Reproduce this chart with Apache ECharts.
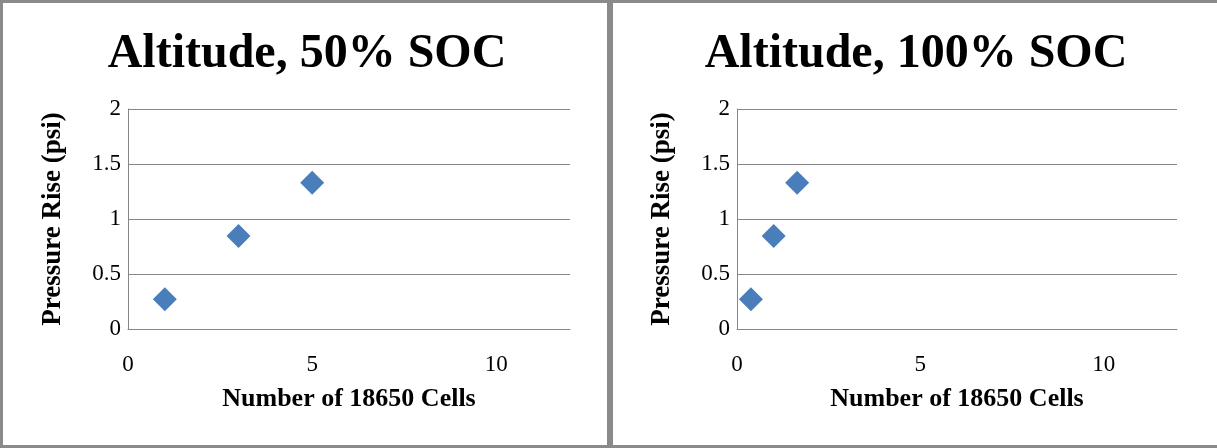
<!DOCTYPE html>
<html>
<head>
<meta charset="utf-8">
<script src="https://cdn.jsdelivr.net/npm/echarts@6/dist/echarts.min.js"></script>
<style>
html,body{margin:0;padding:0;background:#fff;}
#c{width:1217px;height:448px;}
</style>
</head>
<body>
<div id="c"></div>
<script>
// Data
const titles = ['Altitude, 50% SOC', 'Altitude, 100% SOC'];
const xAxisName = 'Number of 18650 Cells';
const yAxisName = 'Pressure Rise (psi)';
const cells50 = [1, 3, 5];
const pressure50 = [0.27, 0.845, 1.33];
const cells100 = [0.38, 1, 1.64];
const pressure100 = [0.27, 0.845, 1.33];
const xTicks = [0, 5, 10];
const yTicks = [0, 0.5, 1, 1.5, 2];

const serif = '"Liberation Serif", "Times New Roman", serif';
const gridColor = '#868686';
const borderColor = '#8a8a8a';

function xAxis(gi) {
  return {
    type: 'value', gridIndex: gi, min: 0, max: 12, interval: 5,
    name: xAxisName, nameLocation: 'middle', nameGap: 57,
    nameTextStyle: {fontFamily: serif, fontWeight: 'bold', fontSize: 26, color: '#000'},
    axisLine: {show: true, lineStyle: {color: gridColor, width: 1}},
    axisTick: {show: false},
    splitLine: {show: false},
    axisLabel: {
      margin: 24, fontFamily: serif, fontSize: 23, color: '#000',
      showMaxLabel: false,
      formatter: v => xTicks.indexOf(v) >= 0 ? String(v) : ''
    }
  };
}
function yAxis(gi) {
  return {
    type: 'value', gridIndex: gi, min: 0, max: 2, interval: 0.5,
    name: yAxisName, nameLocation: 'middle', nameGap: 61, nameRotate: 90,
    nameTextStyle: {fontFamily: serif, fontWeight: 'bold', fontSize: 27, color: '#000'},
    axisLine: {show: true, lineStyle: {color: gridColor, width: 1}},
    axisTick: {show: false},
    splitLine: {show: true, lineStyle: {color: gridColor, width: 1}},
    axisLabel: {
      margin: 7, fontFamily: serif, fontSize: 23, color: '#000',
      formatter: v => yTicks.indexOf(v) >= 0 ? String(v) : ''
    }
  };
}
function series(gi, xs, ys) {
  return {
    type: 'scatter', xAxisIndex: gi, yAxisIndex: gi,
    symbol: 'diamond', symbolSize: 24,
    itemStyle: {color: '#4a7ebb', opacity: 1},
    data: xs.map((x, i) => [x, ys[i]])
  };
}

const chart = echarts.init(document.getElementById('c'), null, {renderer: 'canvas'});
chart.setOption({
  animation: false,
  backgroundColor: '#fff',
  title: [
    {text: titles[0], left: 302, top: 26, textAlign: 'center',
     textStyle: {fontFamily: serif, fontWeight: 'bold', fontSize: 48, color: '#000'}},
    {text: titles[1], left: 911, top: 26, textAlign: 'center',
     textStyle: {fontFamily: serif, fontWeight: 'bold', fontSize: 48, color: '#000'}}
  ],
  grid: [
    {left: 128, right: 647, top: 109, bottom: 119, containLabel: false},
    {left: 737, right: 40, top: 109, bottom: 119, containLabel: false}
  ],
  xAxis: [xAxis(0), xAxis(1)],
  yAxis: [yAxis(0), yAxis(1)],
  series: [series(0, cells50, pressure50), series(1, cells100, pressure100)],
  graphic: [
    {type: 'rect', silent: true, shape: {x: 1.5, y: 1.5, width: 607, height: 445},
     style: {fill: 'none', stroke: borderColor, lineWidth: 3}},
    {type: 'rect', silent: true, shape: {x: 611.5, y: 1.5, width: 620, height: 445},
     style: {fill: 'none', stroke: borderColor, lineWidth: 3}}
  ]
});
</script>
</body>
</html>
